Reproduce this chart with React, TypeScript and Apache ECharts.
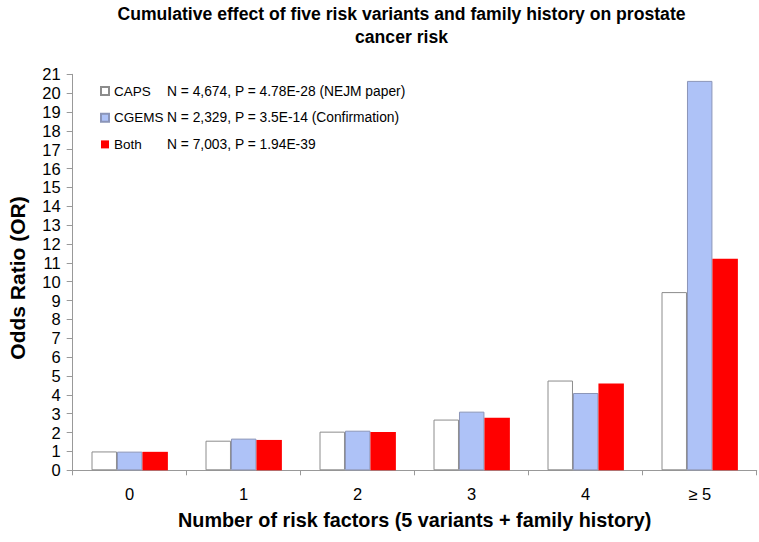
import React, { useEffect, useRef } from "react";
import * as echarts from "echarts";

const categories = ["0", "1", "2", "3", "4", "≥ 5"];
const capsValues = [1.0, 1.57, 2.05, 2.69, 4.76, 9.45];
const cgemsValues = [0.99, 1.68, 2.1, 3.11, 4.1, 20.65];
const bothValues = [0.98, 1.61, 2.03, 2.79, 4.6, 11.22];
const legendNames = ["CAPS", "CGEMS", "Both"];
const legendDetails: Record<string, string> = {
  CAPS: "N = 4,674, P = 4.78E-28 (NEJM paper)",
  CGEMS: "N = 2,329, P = 3.5E-14 (Confirmation)",
  Both: "N = 7,003, P = 1.94E-39",
};
const yAxisTitle = "Odds Ratio (OR)";

const FONT = "'Liberation Sans', Arial, Helvetica, sans-serif";

export default function App() {
  const ref = useRef<HTMLDivElement>(null);
  useEffect(() => {
    if (!ref.current) return;
    const chart = echarts.init(ref.current, null, { renderer: "svg" });
    chart.setOption({
      animation: false,
      backgroundColor: "#ffffff",
      textStyle: { fontFamily: FONT },
      title: {
        text: "Cumulative effect of five risk variants and family history on prostate\ncancer risk",
        left: 401.5,
        textAlign: "center",
        top: 2.5,
        padding: 0,
        textStyle: {
          fontFamily: FONT,
          fontSize: 17.6,
          fontWeight: "bold",
          color: "#000",
          lineHeight: 23,
        },
      },
      legend: {
        orient: "vertical",
        left: 95,
        top: 79,
        icon: "rect",
        itemWidth: 8,
        itemHeight: 8,
        itemGap: 12.7,
        data: legendNames,
        formatter: (name: string) => `{n|${name}}{d|${legendDetails[name]}}`,
        textStyle: {
          fontFamily: FONT,
          fontSize: 13.5,
          color: "#000",
          rich: {
            n: { width: 53, fontSize: 13.5, fontFamily: FONT, color: "#000" },
            d: { fontSize: 13.8, fontFamily: FONT, color: "#000" },
          },
        },
      },
      graphic: [
        {
          type: "text",
          x: 17,
          y: 278,
          rotation: Math.PI / 2,
          style: {
            text: yAxisTitle,
            fontFamily: FONT,
            fontSize: 21,
            fontWeight: "bold",
            fill: "#000",
            align: "center",
            verticalAlign: "middle",
          },
        },
      ],
      grid: { left: 72.7, right: 2.3, top: 74.3, bottom: 71.7 },
      xAxis: {
        type: "category",
        data: categories,
        name: "Number of risk factors (5 variants + family history)",
        nameLocation: "middle",
        nameGap: 40,
        nameTextStyle: { fontFamily: FONT, fontSize: 19.8, fontWeight: "bold", color: "#000" },
        axisLine: { lineStyle: { color: "#999999", width: 1 } },
        axisTick: { show: true, length: 5, lineStyle: { color: "#999999" } },
        axisLabel: { fontFamily: FONT, fontSize: 16.5, color: "#000", margin: 15 },
      },
      yAxis: {
        type: "value",
        min: 0,
        max: 21,
        interval: 1,
        axisLine: { show: true, lineStyle: { color: "#999999", width: 1 } },
        axisTick: { show: true, length: 6, lineStyle: { color: "#999999" } },
        axisLabel: {
          fontFamily: FONT,
          fontSize: 16.5,
          color: "#000",
          margin: 12,
        },
        splitLine: { show: false },
      },
      series: [
        {
          name: "CAPS",
          type: "bar",
          data: capsValues,
          barGap: "0%",
          barCategoryGap: "33%",
          itemStyle: { color: "#ffffff", borderColor: "#8c8c8c", borderWidth: 1 },
        },
        {
          name: "CGEMS",
          type: "bar",
          data: cgemsValues,
          barGap: "0%",
          barCategoryGap: "33%",
          itemStyle: { color: "#aec2f7", borderColor: "#8b95b8", borderWidth: 1 },
        },
        {
          name: "Both",
          type: "bar",
          data: bothValues,
          barGap: "0%",
          barCategoryGap: "33%",
          itemStyle: { color: "#ff0000", borderWidth: 0 },
        },
      ],
    });
    return () => chart.dispose();
  }, []);
  return <div ref={ref} style={{ width: 759, height: 542, position: "fixed", left: 0, top: 0 }} />;
}
